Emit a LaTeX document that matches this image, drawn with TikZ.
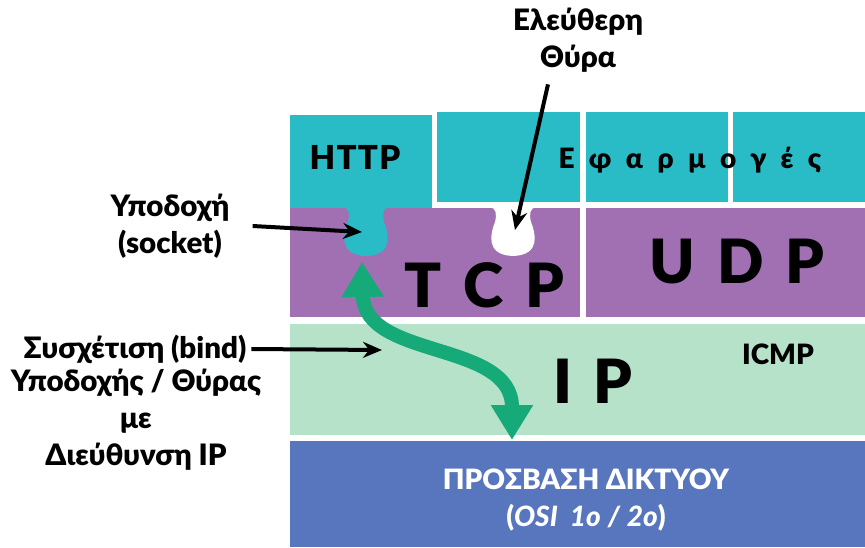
\documentclass[tikz,border=0pt]{standalone}
\usepackage{fontspec}
\setmainfont{Lato}[BoldFont={Lato Black}, BoldItalicFont={Lato Black Italic}]
\usetikzlibrary{arrows.meta,positioning}

\definecolor{appcyan}{RGB}{42,188,198}
\definecolor{tcppurple}{RGB}{160,112,178}
\definecolor{ipgreen}{RGB}{182,226,202}
\definecolor{netblue}{RGB}{88,118,190}
\definecolor{bindgreen}{RGB}{22,170,120}

\begin{document}
\begin{tikzpicture}[x=1pt,y=-1pt,
    layer/.style={inner sep=0pt, outer sep=0pt, anchor=north west},
    lbl/.style={font=\fontsize{29.5}{37}\selectfont\bfseries, align=center, inner sep=1pt},
    big/.style={font=\fontsize{61}{61}\selectfont\bfseries, inner sep=0pt, anchor=base},
    ptr/.style={line width=4pt, -{Stealth[length=19pt,width=16pt]}},
    bindarrow/.style={line width=14pt, bindgreen,
        {Triangle[width=40pt,length=35pt]}-{Triangle[width=40pt,length=35pt]}},
    keyhole/.pic={\fill[#1] (-23,-1) .. controls (-17,0) and (-16,6) .. (-18,14)
        .. controls (-22,24) and (-29,47) .. (0,48)
        .. controls (29,47) and (22,24) .. (18,14)
        .. controls (16,6) and (17,0) .. (23,-1) -- cycle;}
]
\useasboundingbox (0,0) rectangle (865,547);

% application layer
\node[layer, fill=appcyan, minimum width=142pt, minimum height=93pt] (http) at (290,115) {};
\node[layer, fill=appcyan, minimum width=143pt, minimum height=90pt] (app1) at (437,112) {};
\node[layer, fill=appcyan, minimum width=142pt, minimum height=90pt] (app2) at (586,112) {};
\node[layer, fill=appcyan, minimum width=132pt, minimum height=90pt] (app3) at (733,112) {};

% transport layer
\node[layer, fill=tcppurple, minimum width=290pt, minimum height=109pt] (tcp) at (290,208) {};
\node[layer, fill=tcppurple, minimum width=279pt, minimum height=109pt] (udp) at (586,208) {};

% network and access layers
\node[layer, fill=ipgreen, minimum width=575pt, minimum height=111pt] (ip) at (290,324) {};
\node[layer, fill=netblue, minimum width=575pt, minimum height=106pt] (net) at (290,441) {};

% socket and free port
\pic at (366,208) {keyhole=appcyan};
\pic at (513,208) {keyhole=white};

% layer texts
\node[font=\fontsize{33}{33}\selectfont\bfseries\addfontfeature{LetterSpace=4}] (httptxt) at (355,157) {HTTP};
\node[font=\fontsize{28}{28}\selectfont\bfseries\addfontfeature{LetterSpace=52}] (apptxt) at (690,160) {Εφαρμογές};
\node[big] (tcptxt) at (484,307) {T\hspace{22pt}C\hspace{22pt}P};
\node[big] (udptxt) at (737,283) {U\hspace{22pt}D\hspace{22pt}P};
\node[big] (iptxt) at (593,403) {I\hspace{21pt}P};
\node[font=\fontsize{28}{28}\selectfont\bfseries] (icmptxt) at (778,354) {ICMP};
\node[font=\fontsize{28}{37}\selectfont\bfseries, text=white, align=center] (nettxt) at (586,500)
    {ΠΡΟΣΒΑΣΗ ΔΙΚΤΥΟΥ\\(\textit{OSI\hspace{12pt}1o\hspace{7pt}/\hspace{7pt}2o})};

% labels
\node[lbl] (portlbl) at (578,40) {Ελεύθερη\\Θύρα};
\node[lbl] (socketlbl) at (170,226) {Υποδοχή\\(socket)};
\node[lbl] (bindlbl) at (135,349) {Συσχέτιση (bind)};
\node[lbl, anchor=north] (bindrest) at (136,368) {Υποδοχής / Θύρας\\με\\Διεύθυνση IP};

\coordinate (port) at (515,230);
\coordinate (socket) at (362,232);
\coordinate (bind) at (382,350);
\coordinate (peg) at (362,262);
\coordinate (nettop) at (512,440);

% pointers
\draw[ptr] ([xshift=-30pt,yshift=-11pt]portlbl.south) -- (port);
\draw[ptr] ([xshift=22pt]socketlbl.east) -- (socket);
\draw[ptr] ([xshift=4pt]bindlbl.east) -- (bind);
\draw[bindarrow] (peg) .. controls (364,360) and (512,340) .. (nettop);
\end{tikzpicture}
\end{document}
